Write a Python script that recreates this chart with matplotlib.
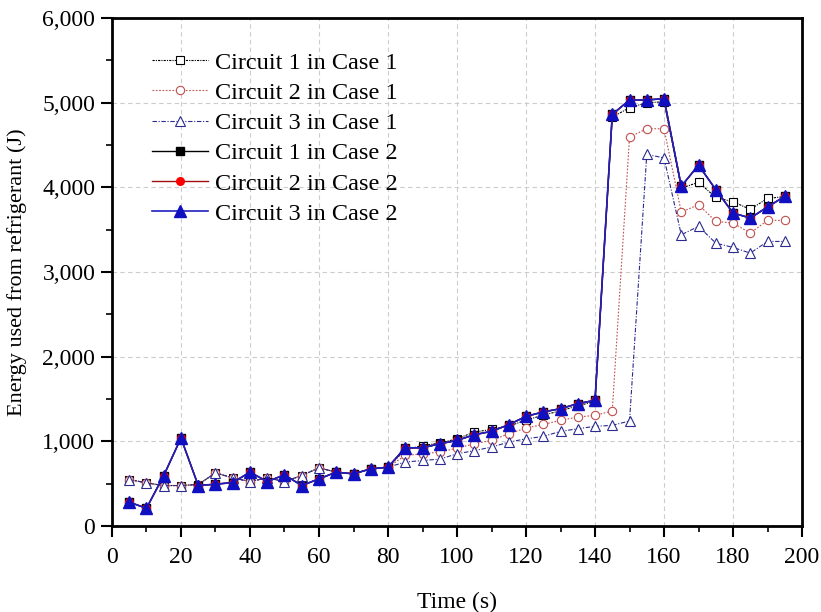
import numpy as np
import matplotlib.pyplot as plt
from matplotlib.ticker import MultipleLocator, FuncFormatter

plt.rcParams['font.family'] = ['Liberation Serif', 'DejaVu Serif']

# time axis (s)
time = list(range(5, 200, 5))

# Case 1 (open markers)
c1_case1 = [549, 509, 478, 478, 490, 628, 569, 525, 569, 525, 596, 687, 636, 616, 675, 695,
            900, 950, 980, 1030, 1110, 1140, 1180, 1250, 1310, 1360, 1420, 1470,
            4830, 4940, 5000, 5010, 3990, 4060, 3880, 3830, 3740, 3870, 3890]
c2_case1 = [549, 509, 478, 478, 490, 628, 569, 525, 569, 525, 596, 687, 636, 616, 675, 695,
            833, 853, 873, 920, 971, 1011, 1090, 1157, 1200, 1248, 1287, 1307,
            1359, 4593, 4692, 4692, 3708, 3795, 3598, 3578, 3460, 3610, 3610]
c3_case1 = [549, 509, 478, 478, 490, 628, 569, 525, 569, 525, 596, 687, 636, 616, 675, 695,
            755, 774, 790, 853, 890, 932, 991, 1030, 1058, 1118, 1149, 1177,
            1189, 1240, 4388, 4348, 3440, 3539, 3341, 3290, 3223, 3361, 3361]

# Case 2 (filled markers) - the three circuits practically overlap
c1_case2 = [281, 210, 596, 1039, 478, 494, 513, 636, 525, 604, 478, 557, 636, 616, 675, 695,
            924, 924, 971, 1011, 1078, 1118, 1197, 1295, 1347, 1386, 1445, 1485,
            4861, 5032, 5032, 5047, 4013, 4262, 3973, 3697, 3637, 3768, 3894]
c2_case2 = list(c1_case2)
c3_case2 = list(c1_case2)

labels = ["Circuit 1 in Case 1", "Circuit 2 in Case 1", "Circuit 3 in Case 1",
          "Circuit 1 in Case 2", "Circuit 2 in Case 2", "Circuit 3 in Case 2"]

fig = plt.figure(figsize=(8.21, 6.12), dpi=100)
ax = fig.add_axes([0.1364, 0.1405, 0.8405, 0.8301])

ax.plot(time, c1_case1, color='black', lw=0.8, ls=(0, (2, 1, 1, 1)),
        marker='s', ms=5.5, mfc='white', mec='black', mew=0.8, label=labels[0])
ax.plot(time, c2_case1, color='#c0504d', lw=0.8, ls=(0, (1.5, 1.5)),
        marker='o', ms=6, mfc='white', mec='#c0504d', mew=0.8, label=labels[1])
ax.plot(time, c3_case1, color='#2a2a90', lw=0.8, ls=(0, (4, 1.5, 1, 1.5)),
        marker='^', ms=6.5, mfc='white', mec='#2a2a90', mew=0.8, label=labels[2])
ax.plot(time, c1_case2, color='black', lw=1.0, ls='-',
        marker='s', ms=5.5, mfc='black', mec='black', label=labels[3])
ax.plot(time, c2_case2, color='#a01010', lw=1.0, ls='-',
        marker='o', ms=5.5, mfc='red', mec='red', label=labels[4])
ax.plot(time, c3_case2, color='#2020c0', lw=1.2, ls='-',
        marker='^', ms=8.5, mfc='#1010c0', mec='#1010c0', label=labels[5])

ax.set_xlim(0, 200)
ax.set_ylim(0, 6000)
ax.xaxis.set_major_locator(MultipleLocator(20))
ax.xaxis.set_minor_locator(MultipleLocator(10))
ax.yaxis.set_major_locator(MultipleLocator(1000))
ax.yaxis.set_minor_locator(MultipleLocator(500))
ax.yaxis.set_major_formatter(FuncFormatter(lambda v, p: f"{int(v):,}"))

ax.tick_params(which='major', direction='out', length=8, width=1.5, labelsize=17)
ax.tick_params(which='minor', direction='out', length=4.5, width=1.2)
ax.tick_params(axis='x', which='major', pad=7)
ax.tick_params(axis='y', which='major', pad=4)
for s in ax.spines.values():
    s.set_linewidth(2)

ax.grid(True, which='major', color='#cccccc', ls=(0, (4, 3)), lw=0.8)
ax.set_axisbelow(True)

ax.set_xlabel("Time (s)", fontsize=17, labelpad=17)
ax.set_ylabel("Energy used from refrigerant (J)", fontsize=16, labelpad=11)

ax.legend(loc='upper left', bbox_to_anchor=(0.058, 0.934), frameon=False, fontsize=17.5,
          labelspacing=0.34, handlelength=2.3, handletextpad=0.3,
          borderpad=0, borderaxespad=0)

plt.savefig("out.png", dpi=100)
